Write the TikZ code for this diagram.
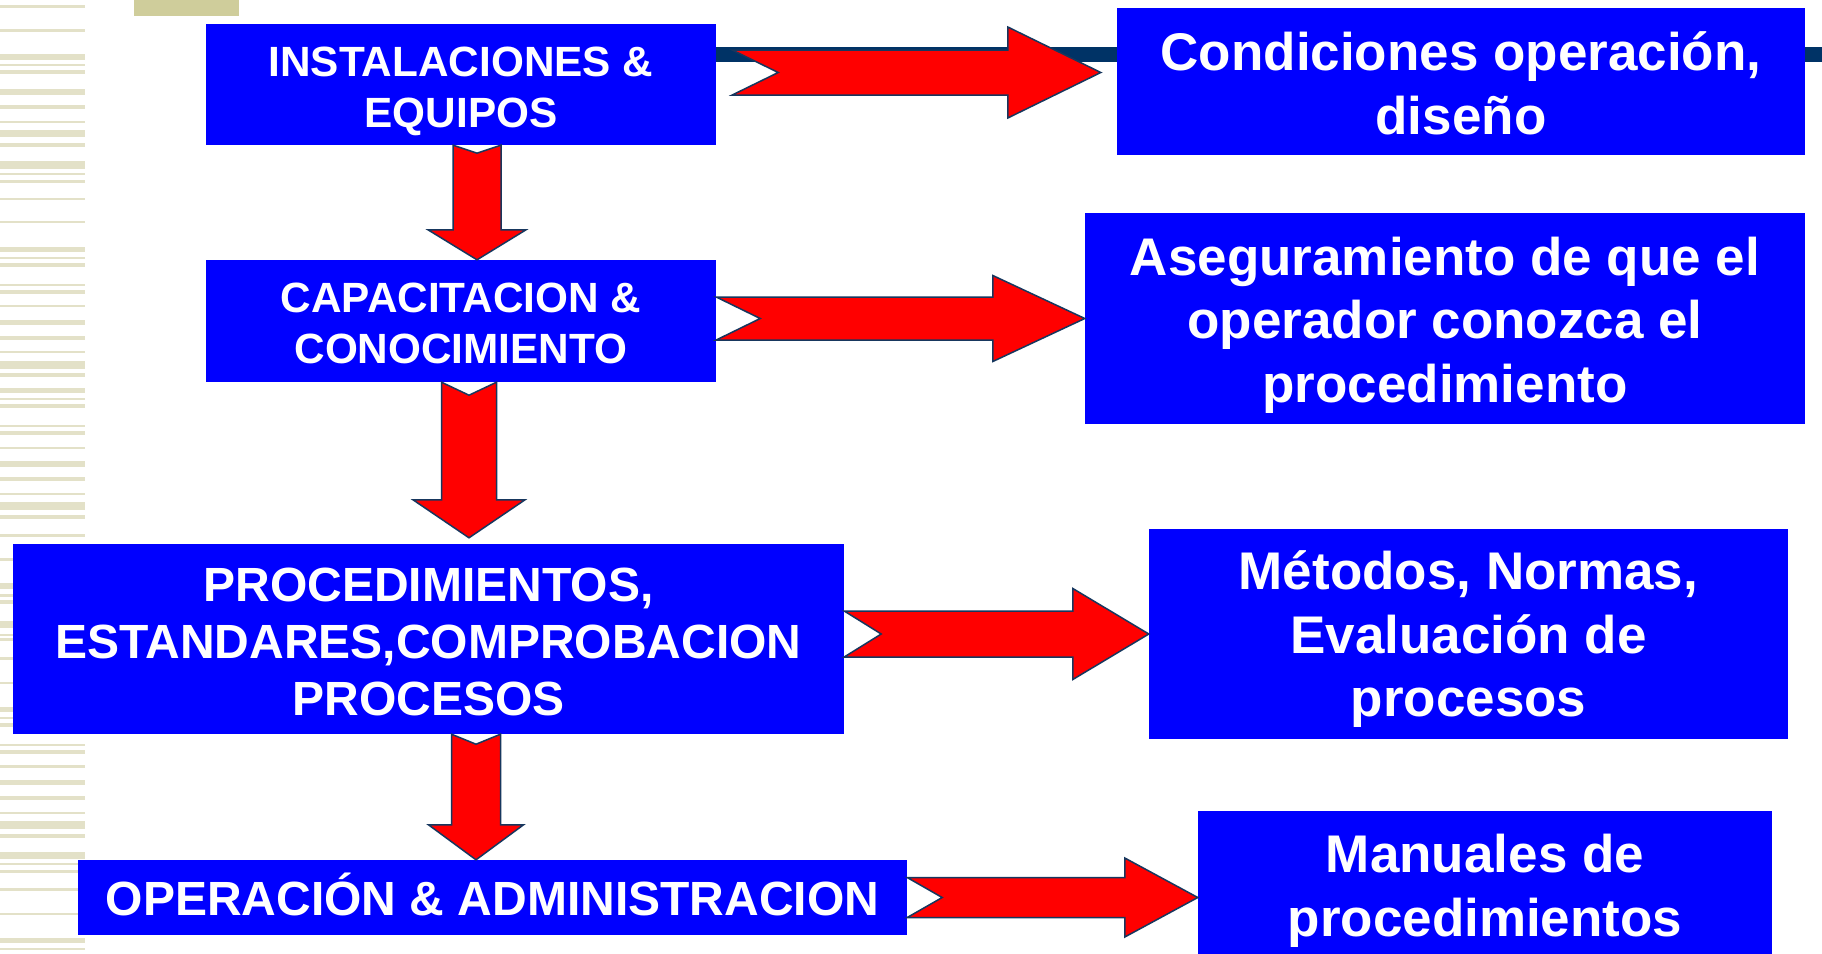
\documentclass[tikz,border=0pt]{standalone}
\usepackage{fontspec}
\setmainfont{Liberation Sans}
\usepackage{tikz}
\usetikzlibrary{calc}
\definecolor{boxblue}{RGB}{0, 0, 255}
\definecolor{arrowred}{RGB}{255, 0, 0}
\definecolor{edgenavy}{RGB}{23, 55, 94}
\definecolor{barnavy}{RGB}{0, 51, 102}
\definecolor{stripetan}{RGB}{227, 225, 200}
\definecolor{blocktan}{RGB}{207, 205, 155}

% block arrows: tail, tip, body half width, head half width, head length, notch
\newcommand{\bigright}[6]{%
  \draw[redarrow] let \p1=(#1), \p2=(#2) in
    (\x1,\y2+#3) -- (\x2-#5,\y2+#3) -- (\x2-#5,\y2+#4) -- (\x2,\y2)
    -- (\x2-#5,\y2-#4) -- (\x2-#5,\y2-#3) -- (\x1,\y2-#3) -- (\x1+#6,\y2) -- cycle;}
\newcommand{\bigdown}[6]{%
  \draw[redarrow] let \p1=(#1), \p2=(#2) in
    (\x1-#3,\y1) -- (\x1-#3,\y2+#5) -- (\x1-#4,\y2+#5) -- (\x1,\y2)
    -- (\x1+#4,\y2+#5) -- (\x1+#3,\y2+#5) -- (\x1+#3,\y1) -- (\x1,\y1-#6) -- cycle;}

\begin{document}
\begin{tikzpicture}[x=1pt, y=-1pt,
  stage/.style={fill=boxblue, text=white, align=center, inner sep=0pt, font=\fontsize{42.3}{51}\selectfont\bfseries},
  bigstage/.style={stage, font=\fontsize{48}{57}\selectfont\bfseries},
  outcome/.style={stage, font=\fontsize{53}{63.5}\selectfont\bfseries},
  redarrow/.style={fill=arrowred, draw=edgenavy, line width=1.5pt}]
\clip (0,0) rectangle (1822,953);
\fill[white] (0,0) rectangle (1822,953);

\foreach \sy/\sh in {5/2.5, 29/3, 54/6, 64/2, 70/4, 89/6, 105/4, 121/2, 130/7, 143/4, 161/8, 173/2, 180/3,
  198/2, 221/2, 247/5, 257/2, 263/4, 284/2, 290/4, 305/2, 320/5, 336/4, 351/2, 361/8, 373/4, 388/5, 398/2,
  404/4, 425/2, 431/4, 447/2, 461/6, 477/4, 493/2, 502/8, 515/4, 534/3, 558/3, 583/6, 594/3, 600/4, 621/7,
  634/2, 638/3, 657/3, 682/2, 707/5, 717/2, 723/4, 744/2, 750/4, 765/3, 780/5, 796/4, 812/2, 821/8, 834/4,
  852/7, 863/2, 870/3, 888/3, 913/2, 938/5, 948/2}
  \fill[stripetan] (0,\sy) rectangle (85,\sy+\sh);
\fill[blocktan] (134,0) rectangle (239,16);
\fill[barnavy] (700,47) rectangle (1822,62);

\node[stage, minimum width=510pt, minimum height=121pt] (inst) at (461,84.5) {\rule{0pt}{43pt}INSTALACIONES \&\\EQUIPOS};
\node[outcome, minimum width=688pt, minimum height=147pt] (cond) at (1461,81.5) {\rule{0pt}{43pt}Condiciones operación,\\diseño};
\node[stage, minimum width=510pt, minimum height=122pt] (cap) at (461,321) {\rule{0pt}{35pt}CAPACITACION \&\\CONOCIMIENTO};
\node[outcome, minimum width=720pt, minimum height=211pt] (aseg) at (1445,318.5) {\rule{0pt}{51pt}Aseguramiento de que el\\operador conozca el\\procedimiento};
\node[bigstage, minimum width=831pt, minimum height=190pt] (proc) at (428.5,639) {\rule{0pt}{40pt}PROCEDIMIENTOS,\\ESTANDARES,COMPROBACION\\PROCESOS};
\node[outcome, minimum width=639pt, minimum height=210pt] (met) at (1468.5,634) {\rule{0pt}{49pt}Métodos, Normas,\\Evaluación de\\procesos};
\node[bigstage, minimum width=829pt, minimum height=75pt] (oper) at (492.5,897.5) {\rule[-7pt]{0pt}{1pt}OPERACIÓN \& ADMINISTRACION};
\node[outcome, minimum width=574pt, minimum height=160pt] (man) at (1485,891) {Manuales de\\procedimientos};

\bigright{$(inst.east)+(16,0)$}{$(cond.west)+(-16,-9)$}{22.5}{45.5}{93}{46}
\bigright{cap.east}{aseg.west}{21.5}{43}{92}{44}
\bigright{proc.east}{met.west}{23}{45.5}{76}{37}
\bigright{oper.east}{man.west |- oper.east}{20}{39.5}{73}{35}

\bigdown{$(inst.south)+(16,0)$}{cap.north}{24}{49}{30}{8}
\bigdown{$(cap.south)+(8,0)$}{$(proc.north)+(0,-6)$}{27.5}{56}{38}{13}
\bigdown{$(proc.south)+(47.5,0)$}{oper.north}{24.5}{47.5}{35}{10}
\end{tikzpicture}
\end{document}
